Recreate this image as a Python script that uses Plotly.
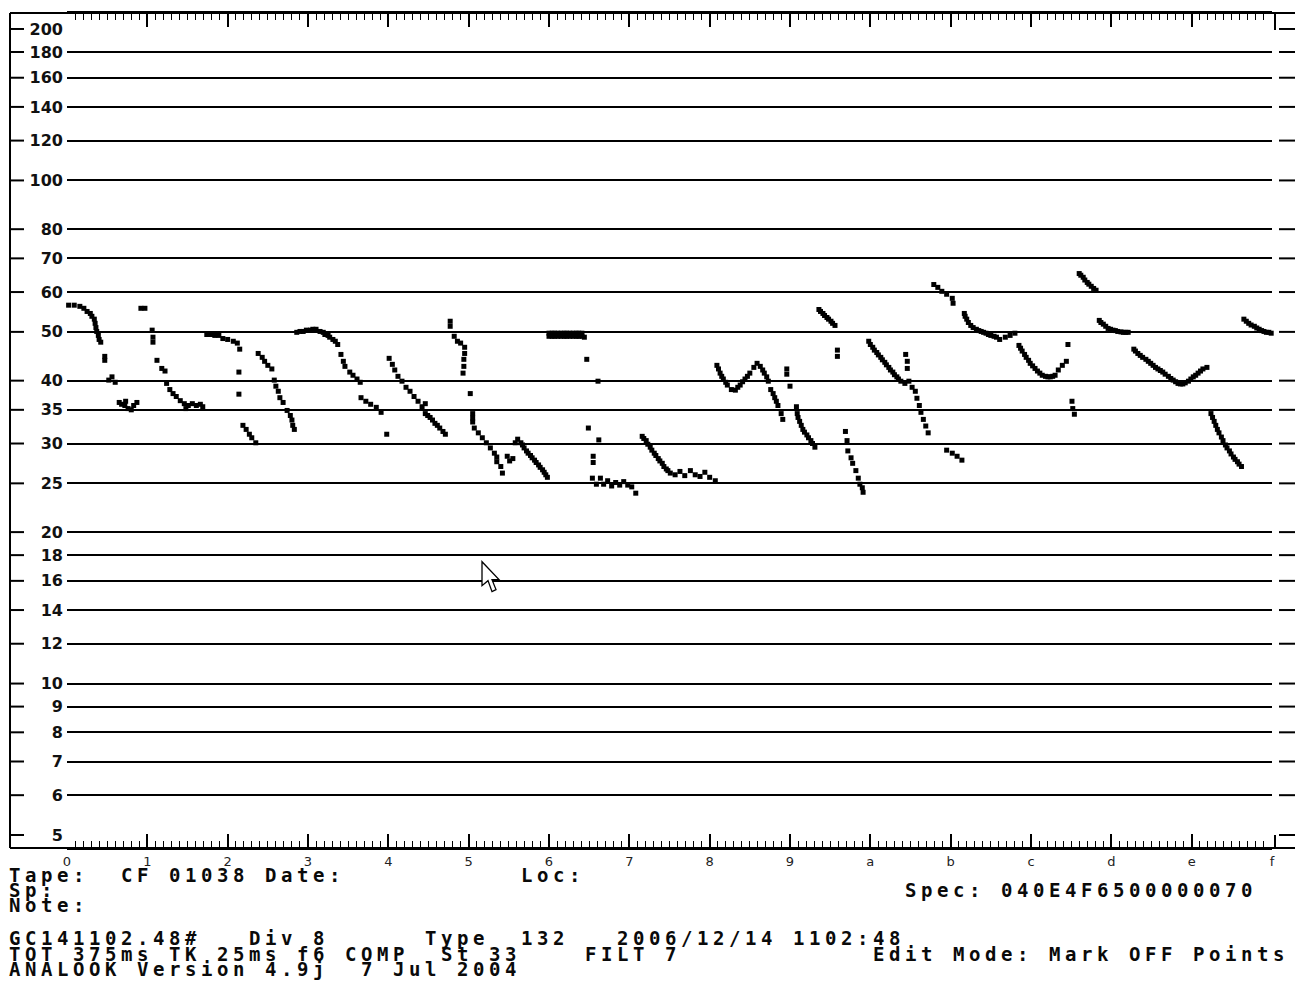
import math
import plotly.graph_objects as go

# ---- axis labels -------------------------------------------------------
freq_labels = [200, 180, 160, 140, 120, 100, 80, 70, 60, 50, 40, 35, 30, 25,
               20, 18, 16, 14, 12, 10, 9, 8, 7, 6, 5]
grid_freqs = [180, 160, 140, 120, 100, 80, 70, 60, 50, 40, 35, 30, 25,
              20, 18, 16, 14, 12, 10, 9, 8, 7, 6]
time_ticks = list(range(16))
time_labels = ["0", "1", "2", "3", "4", "5", "6", "7", "8", "9",
               "a", "b", "c", "d", "e", "f"]

# ---- call points: (time division, frequency kHz) -----------------------
call01 = [(0.02, 56.5), (0.09, 56.5), (0.16, 56.2), (0.21, 55.7), (0.25, 54.9),
          (0.29, 54.4), (0.31, 53.7), (0.34, 53.0), (0.35, 52.0), (0.36, 51.0),
          (0.37, 50.1), (0.39, 49.2), (0.40, 48.3), (0.42, 47.7), (0.47, 44.7),
          (0.47, 43.9), (0.52, 40.1), (0.56, 40.7), (0.60, 39.7), (0.65, 36.2),
          (0.68, 35.9), (0.72, 35.7), (0.73, 36.4), (0.76, 35.2), (0.80, 35.0),
          (0.83, 35.7), (0.87, 36.2)]
call02 = [(0.92, 55.7), (0.97, 55.7), (1.06, 50.4), (1.07, 48.8), (1.07, 47.7),
          (1.12, 43.9), (1.18, 42.3), (1.22, 41.8), (1.24, 39.5), (1.28, 38.4),
          (1.32, 37.7), (1.36, 37.2), (1.41, 36.5), (1.46, 36.0), (1.48, 35.2),
          (1.51, 35.7), (1.56, 36.0), (1.61, 35.7), (1.66, 35.9), (1.69, 35.5)]
call03 = [(1.74, 49.4), (1.79, 49.4), (1.84, 49.2), (1.89, 49.2), (1.94, 48.5),
          (2.00, 48.3), (2.07, 47.9), (2.12, 47.5), (2.15, 46.2), (2.14, 41.6),
          (2.14, 37.6), (2.19, 32.6), (2.23, 32.0), (2.27, 31.3), (2.30, 30.8),
          (2.35, 30.1)]
call04 = [(2.38, 45.3), (2.43, 44.5), (2.46, 43.7), (2.50, 42.9), (2.55, 42.2),
          (2.58, 40.1), (2.60, 39.0), (2.63, 38.1), (2.65, 37.0), (2.69, 36.2),
          (2.74, 34.9), (2.78, 34.1), (2.80, 33.4), (2.81, 32.6), (2.83, 32.0)]
call05 = [(2.86, 49.9), (2.90, 50.1), (2.94, 50.1), (2.98, 50.4), (3.03, 50.4),
          (3.06, 50.6), (3.10, 50.6), (3.15, 50.1), (3.19, 49.9), (3.21, 49.4),
          (3.25, 49.2), (3.27, 48.8), (3.31, 48.3), (3.34, 47.9), (3.37, 47.2),
          (3.41, 45.1), (3.44, 43.7), (3.46, 42.7), (3.52, 41.6), (3.56, 41.0),
          (3.61, 40.3), (3.65, 39.7), (3.66, 37.0), (3.72, 36.4), (3.78, 35.9),
          (3.85, 35.4), (3.91, 34.6), (3.98, 31.3)]
call06 = [(4.01, 44.3), (4.05, 43.1), (4.08, 42.0), (4.12, 40.8), (4.17, 39.9),
          (4.22, 38.8), (4.27, 38.1), (4.32, 37.2), (4.37, 36.4), (4.42, 35.5),
          (4.46, 36.0), (4.46, 34.4), (4.49, 34.1), (4.52, 33.8), (4.55, 33.4),
          (4.58, 32.9), (4.61, 32.6), (4.64, 32.2), (4.68, 31.7), (4.71, 31.3)]
call07 = [(4.77, 52.5), (4.77, 51.3), (4.82, 49.0), (4.86, 47.9), (4.90, 47.5),
          (4.95, 46.6), (4.95, 45.3), (4.94, 44.1), (4.94, 42.7), (4.93, 41.4),
          (5.02, 37.7), (5.05, 34.4), (5.05, 33.7), (5.05, 33.1), (5.07, 32.2),
          (5.12, 31.5), (5.17, 30.8), (5.22, 30.1), (5.27, 29.4), (5.32, 28.7),
          (5.35, 28.2), (5.35, 27.6), (5.40, 27.0), (5.42, 26.2), (5.48, 28.3),
          (5.51, 27.7), (5.55, 28.0)]
call08 = [(5.58, 30.1), (5.61, 30.6), (5.65, 30.1), (5.67, 29.8), (5.69, 29.4),
          (5.72, 29.0), (5.74, 28.7), (5.77, 28.4), (5.79, 28.1), (5.82, 27.8),
          (5.84, 27.5), (5.87, 27.2), (5.89, 26.9), (5.92, 26.6), (5.94, 26.3),
          (5.96, 26.0), (5.98, 25.7)]
call09 = [(6.00, 49.7), (6.04, 49.7), (6.07, 49.7), (6.11, 49.7), (6.15, 49.7),
          (6.19, 49.7), (6.22, 49.7), (6.26, 49.7), (6.30, 49.7), (6.34, 49.7),
          (6.37, 49.7), (6.41, 49.7), (6.00, 49.0), (6.04, 49.0), (6.07, 49.0),
          (6.11, 49.0), (6.15, 49.0), (6.19, 49.0), (6.22, 49.0), (6.26, 49.0),
          (6.30, 49.0), (6.34, 49.0), (6.37, 49.0), (6.41, 49.0), (6.44, 48.8),
          (6.47, 44.1), (6.61, 39.9), (6.49, 32.2), (6.62, 30.5), (6.55, 28.3),
          (6.55, 27.5), (6.54, 25.6), (6.59, 24.9), (6.64, 25.6), (6.68, 24.9),
          (6.73, 25.3), (6.78, 24.7), (6.83, 25.1), (6.88, 24.8), (6.93, 25.2),
          (6.98, 24.8), (7.03, 24.6), (7.08, 23.9)]
call10 = [(7.16, 31.0), (7.18, 30.7), (7.21, 30.4), (7.23, 29.9), (7.26, 29.5),
          (7.28, 29.1), (7.31, 28.7), (7.33, 28.4), (7.36, 28.0), (7.38, 27.7),
          (7.41, 27.4), (7.43, 27.0), (7.46, 26.7), (7.48, 26.5), (7.51, 26.2),
          (7.57, 26.0), (7.63, 26.4), (7.69, 25.9), (7.76, 26.5), (7.82, 26.0),
          (7.88, 25.8), (7.94, 26.3), (8.00, 25.7), (8.07, 25.3)]
call11 = [(8.09, 42.9), (8.11, 42.2), (8.13, 41.4), (8.15, 40.8), (8.17, 40.3),
          (8.20, 39.7), (8.22, 39.2), (8.27, 38.4), (8.32, 38.3), (8.35, 38.8),
          (8.38, 39.2), (8.41, 39.8), (8.44, 40.3), (8.47, 40.8), (8.50, 41.4),
          (8.55, 42.5), (8.59, 43.3), (8.63, 42.7), (8.66, 42.0), (8.68, 41.4),
          (8.71, 40.7), (8.73, 39.9), (8.76, 38.4), (8.79, 37.7), (8.81, 37.0),
          (8.83, 36.4), (8.85, 35.7), (8.89, 34.4), (8.91, 33.5)]
call12 = [(8.96, 42.2), (8.96, 41.2), (9.00, 39.0), (9.08, 35.5), (9.09, 34.4),
          (9.10, 33.8), (9.12, 33.2), (9.14, 32.6), (9.16, 32.0), (9.18, 31.6),
          (9.21, 31.2), (9.23, 30.8), (9.26, 30.4), (9.28, 30.0), (9.31, 29.5)]
call13 = [(9.36, 55.4), (9.38, 54.9), (9.41, 54.4), (9.43, 53.9), (9.46, 53.4),
          (9.48, 53.0), (9.51, 52.5), (9.53, 52.0), (9.56, 51.5), (9.59, 46.0),
          (9.59, 44.7)]
call14 = [(9.69, 31.7), (9.71, 30.4), (9.72, 29.0), (9.76, 28.1), (9.78, 27.4),
          (9.82, 26.5), (9.85, 25.6), (9.87, 24.9), (9.90, 24.5), (9.91, 24.0)]
call15 = [(9.98, 47.9), (10.00, 47.2), (10.03, 46.6), (10.05, 46.0), (10.08, 45.5),
          (10.10, 45.0), (10.13, 44.5), (10.15, 44.0), (10.18, 43.5), (10.20, 43.0),
          (10.23, 42.5), (10.25, 42.0), (10.28, 41.6), (10.30, 41.1), (10.33, 40.7),
          (10.35, 40.3), (10.38, 39.9), (10.43, 39.5), (10.48, 39.9), (10.52, 38.8)]
call16 = [(10.44, 45.1), (10.46, 43.7), (10.46, 42.3), (10.56, 38.1), (10.58, 36.9),
          (10.61, 35.7), (10.63, 34.6), (10.66, 33.5), (10.69, 32.5), (10.72, 31.5),
          (10.95, 29.1), (11.02, 28.7), (11.08, 28.3), (11.14, 27.8)]
call17 = [(10.79, 62.1), (10.84, 61.3), (10.89, 60.2), (10.95, 59.4), (11.02, 58.3),
          (11.03, 57.0), (11.17, 54.4), (11.18, 53.7), (11.20, 53.0), (11.22, 52.2),
          (11.25, 51.5), (11.28, 51.0), (11.32, 50.6), (11.35, 50.3), (11.38, 50.1),
          (11.41, 49.9), (11.44, 49.7), (11.47, 49.4), (11.50, 49.2), (11.54, 49.0),
          (11.57, 48.8), (11.61, 48.3), (11.68, 48.8), (11.74, 49.2), (11.80, 49.7),
          (11.85, 47.0), (11.87, 46.4), (11.89, 45.8), (11.92, 45.1), (11.94, 44.5),
          (11.97, 43.9), (11.99, 43.3), (12.02, 42.8), (12.05, 42.3), (12.08, 41.8),
          (12.11, 41.4), (12.14, 41.0), (12.18, 40.8), (12.21, 40.7), (12.24, 40.7),
          (12.27, 40.8), (12.30, 41.0), (12.34, 42.0), (12.39, 42.9), (12.44, 43.7),
          (12.46, 47.2)]
call18 = [(12.51, 36.4), (12.52, 35.2), (12.54, 34.3)]
call19 = [(12.60, 65.3), (12.62, 64.8), (12.65, 64.2), (12.67, 63.4), (12.70, 62.7),
          (12.72, 62.2), (12.75, 61.6), (12.78, 61.0), (12.81, 60.5), (12.85, 52.7),
          (12.87, 52.2), (12.90, 51.8), (12.93, 51.3), (12.96, 50.8), (12.99, 50.6),
          (13.02, 50.4), (13.05, 50.3), (13.08, 50.1), (13.12, 50.0), (13.15, 49.9),
          (13.18, 49.9), (13.21, 49.9)]
call20 = [(13.28, 46.2), (13.30, 45.8), (13.33, 45.3), (13.36, 44.9), (13.39, 44.5),
          (13.43, 44.1), (13.46, 43.7), (13.49, 43.3), (13.52, 42.9), (13.55, 42.5),
          (13.58, 42.2), (13.61, 41.9), (13.64, 41.6), (13.67, 41.2), (13.71, 40.8),
          (13.74, 40.4), (13.77, 40.1), (13.80, 39.8), (13.83, 39.5), (13.86, 39.4),
          (13.89, 39.4), (13.92, 39.6), (13.96, 39.9), (13.99, 40.3), (14.02, 40.7),
          (14.05, 41.0), (14.08, 41.4), (14.11, 41.8), (14.14, 42.2), (14.19, 42.5)]
call21 = [(14.24, 34.4), (14.26, 33.8), (14.28, 33.2), (14.30, 32.6), (14.32, 32.0),
          (14.34, 31.5), (14.37, 30.9), (14.39, 30.4), (14.42, 29.8), (14.44, 29.4),
          (14.47, 29.0), (14.49, 28.6), (14.52, 28.2), (14.54, 27.9), (14.57, 27.6),
          (14.59, 27.3), (14.62, 27.0)]
call22 = [(14.65, 53.0), (14.68, 52.5), (14.71, 52.0), (14.74, 51.6), (14.78, 51.3),
          (14.81, 50.9), (14.84, 50.6), (14.87, 50.3), (14.90, 50.1), (14.93, 49.9),
          (14.96, 49.9), (14.99, 49.7), (15.03, 49.9)]

calls = [call01, call02, call03, call04, call05, call06, call07, call08,
         call09, call10, call11, call12, call13, call14, call15, call16,
         call17, call18, call19, call20, call21, call22]

# ---- header / footer text ---------------------------------------------
text_lines = [
    "Tape:  CF 01038 Date:           Loc:",
    "Sp:                                                     Spec: 040E4F6500000070",
    "Note:",
    "GC141102.48#   Div 8      Type  132   2006/12/14 1102:48",
    "TOT 375ms TK 25ms f6 COMP  St 33    FILT 7            Edit Mode: Mark OFF Points",
    "ANALOOK Version 4.9j  7 Jul 2004",
]

# ---- geometry ----------------------------------------------------------
W, H = 1308, 981
L, R, T, B = 67, 36, 11, 133
PW = W - L - R
PH = H - T - B
PX_PER_DECADE = 504.0
Y_TOP_PAD = 16      # px between the 200 kHz level and the top ruler
Y_BOT_PAD = 13      # px between the 5 kHz level and the bottom ruler

y_lo = math.log10(5) - Y_BOT_PAD / PX_PER_DECADE
y_hi = math.log10(200) + Y_TOP_PAD / PX_PER_DECADE


def px_x(px):
    return (px - L) / PW


def px_y(py):
    return (H - B - py) / PH


fig = go.Figure()
for pts in calls:
    fig.add_trace(go.Scatter(
        x=[p[0] for p in pts], y=[p[1] for p in pts],
        mode="markers",
        marker=dict(symbol="square", size=5, color="black", line=dict(width=0)),
        showlegend=False, cliponaxis=False, hoverinfo="skip"))

label_font = dict(family="DejaVu Sans", size=16, color="#111111", weight="bold")

fig.update_xaxes(
    range=[0, 15], showgrid=False, zeroline=False,
    showline=True, linecolor="black", linewidth=2, mirror="ticks",
    tickmode="array", tickvals=time_ticks, ticktext=time_labels,
    ticks="inside", ticklen=14, tickwidth=1.5, tickcolor="black",
    ticklabelstandoff=0,
    tickfont=dict(family="DejaVu Sans", size=13, color="#222222"),
    minor=dict(tickvals=[i / 10 for i in range(151) if i % 10],
               ticks="inside", ticklen=7, tickwidth=1.2, tickcolor="black",
               showgrid=False),
)
fig.update_yaxes(
    type="log", range=[y_lo, y_hi], showgrid=False, zeroline=False,
    showline=False,
    tickmode="array", tickvals=freq_labels,
    ticktext=[str(v) for v in freq_labels],
    ticks="", ticklabelstandoff=3, tickfont=label_font,
    minor=dict(tickvals=grid_freqs, ticks="", showgrid=True,
               gridcolor="black", gridwidth=2),
)

shapes = []
frame = dict(color="black", width=2)
# outer frame: left rule and extended top / bottom rulers
shapes.append(dict(type="line", xref="paper", yref="paper",
                   x0=px_x(10), x1=px_x(10), y0=0, y1=1, line=frame))
shapes.append(dict(type="line", xref="paper", yref="paper",
                   x0=px_x(10), x1=px_x(1295), y0=1, y1=1, line=frame))
shapes.append(dict(type="line", xref="paper", yref="paper",
                   x0=px_x(10), x1=px_x(1295), y0=0, y1=0, line=frame))
# short scale dashes on both sides of each frequency level
for v in freq_labels:
    shapes.append(dict(type="line", xref="paper", yref="y",
                       x0=px_x(10), x1=px_x(24), y0=v, y1=v, line=frame))
    shapes.append(dict(type="line", xref="paper", yref="y",
                       x0=px_x(1279), x1=px_x(1295), y0=v, y1=v, line=frame))
# corner links on the right end of the rulers
shapes.append(dict(type="line", xref="paper", yref="paper",
                   x0=px_x(1275), x1=px_x(1275), y0=1, y1=px_y(28), line=frame))
shapes.append(dict(type="line", xref="paper", yref="paper",
                   x0=px_x(1275), x1=px_x(1275), y0=0, y1=px_y(835), line=frame))
# mouse pointer
arrow = [(482, 561), (482, 585), (488, 580), (492, 591), (496, 589),
         (492, 579), (499, 579)]
path = "M " + " L ".join("%.5f,%.5f" % (px_x(a), px_y(b)) for a, b in arrow) + " Z"
shapes.append(dict(type="path", xref="paper", yref="paper", path=path,
                   fillcolor="white", line=dict(color="black", width=1.3)))

# footer text on a 16 px character grid
MONO_SIZE = 19
spacing = 16 - 0.602 * MONO_SIZE
line_centres = [875, 890, 905, 938, 954, 969]
annotations = []
for txt, yc in zip(text_lines, line_centres):
    annotations.append(dict(
        xref="paper", yref="paper", x=px_x(7), y=px_y(yc),
        xanchor="left", yanchor="middle", showarrow=False,
        text='<span style="letter-spacing:%.2fpx">%s</span>'
             % (spacing, txt.replace(" ", "\u00a0")),
        font=dict(family="DejaVu Sans Mono", size=MONO_SIZE, color="#0a0a0a",
                  weight="bold")))

fig.update_layout(
    width=W, height=H,
    margin=dict(l=L, r=R, t=T, b=B, pad=0),
    paper_bgcolor="white", plot_bgcolor="white",
    shapes=shapes, annotations=annotations,
    showlegend=False,
)

fig.write_html("out.html")
